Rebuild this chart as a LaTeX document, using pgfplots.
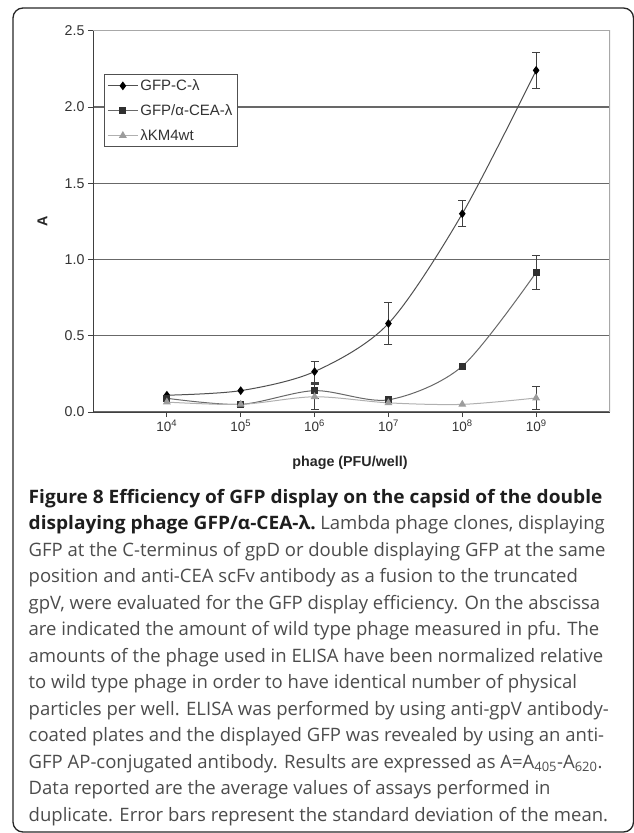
\documentclass[border=0pt]{standalone}
\usepackage{fontspec}
\setmainfont{Liberation Sans}
\newfontfamily\capfont{Open Sans}
\usepackage{graphicx}
\usepackage{pgfplots}
\usepackage{pgfplotstable}
\pgfplotsset{compat=1.18}
\definecolor{gridc}{HTML}{686868}
\definecolor{axisc}{HTML}{404040}
\definecolor{tickc}{HTML}{333333}
\definecolor{framec}{HTML}{A8A8A8}
\definecolor{legc}{HTML}{505050}
\definecolor{lineC}{HTML}{505050}
\definecolor{lineCEA}{HTML}{686868}
\definecolor{lineWT}{HTML}{B0B0B0}
\definecolor{markCEA}{HTML}{303030}
\definecolor{markWT}{HTML}{9C9C9C}
\definecolor{capbold}{HTML}{1E1E1E}
\definecolor{captext}{HTML}{4C4C4C}
\newlength\capw
\newlength\capbw
\pgfplotstableread{
x y
4 0.11
5 0.14
6 0.265
7 0.58
8 1.30
9 2.24
}\gfpc
\pgfplotstableread{
x y
4 0.09
5 0.05
6 0.14
7 0.08
8 0.30
9 0.915
}\gfpcea
\pgfplotstableread{
x y
4 0.065
5 0.05
6 0.10
7 0.06
8 0.05
9 0.092
}\wt
\pgfplotstableread{
x y e
6 0.265 0.07
7 0.58 0.14
8 1.30 0.085
9 2.24 0.117
}\gfpcerr
\pgfplotstableread{
x y e
6 0.14 0.05
9 0.915 0.11
}\gfpceaerr
\pgfplotstableread{
x y e
6 0.10 0.08
9 0.092 0.077
}\wterr
\begin{document}%
\settowidth\capw{\capfont\fontsize{18.5bp}{20bp}\selectfont GFP at the C-terminus of gpD or double displaying GFP at the same}%
\settowidth\capbw{\capfont\bfseries\fontsize{18.5bp}{20bp}\selectfont Figure 8 Efficiency of GFP display on the capsid of the double}%
\pgfmathsetmacro\capscale{578.9/\capw}%
\pgfmathsetmacro\capbscale{575.9/\capbw}%
\begin{tikzpicture}
\useasboundingbox (0,0) rectangle (634bp,-833bp);
\draw[draw=black!85, line width=1.3bp, rounded corners=10bp] (13bp,-8bp) rectangle (633.5bp,-832bp);
\begin{axis}[
  at={(93bp,-412bp)}, anchor=south west,
  scale only axis, width=517bp, height=381.3bp,
  xmin=3, xmax=10, ymin=0, ymax=2.5,
  xtick={4,5,6,7,8,9},
  xticklabels={10\textsuperscript{4},10\textsuperscript{5},10\textsuperscript{6},10\textsuperscript{7},10\textsuperscript{8},10\textsuperscript{9}},
  ytick={0,0.5,1,1.5,2,2.5},
  axis lines*=left,
  axis line style={draw=axisc, line width=1bp},
  tick align=outside,
  major tick length=5bp,
  tick style={draw=axisc, line width=0.9bp},
  ymajorgrids,
  grid style={draw=gridc, line width=1.3bp},
  /pgf/number format/assume math mode=true,
  y tick label style={/pgf/number format/fixed, /pgf/number format/fixed zerofill, /pgf/number format/precision=1, font=\fontsize{14.2bp}{16bp}\selectfont, text=tickc},
  x tick label style={font=\fontsize{13.5bp}{15bp}\selectfont, text=tickc, yshift=1bp},
  xlabel={phage (PFU/well)},
  ylabel={A},
  xlabel style={font=\bfseries\fontsize{14.3bp}{16bp}\selectfont, text=black!85, at={(axis description cs:0.497,-0.134)}, anchor=center},
  ylabel style={font=\bfseries\fontsize{14.3bp}{16bp}\selectfont, text=black!85, at={(axis description cs:-0.0977,0.5)}, anchor=center},
  legend style={at={(0.021,0.886)}, anchor=north west, draw=legc, line width=1bp, fill=white,
    font=\fontsize{15bp}{17bp}\selectfont, text=tickc, inner xsep=3bp, inner ysep=3bp, row sep=8.5bp,
    nodes={inner sep=2bp}},
  legend cell align=left,
  legend image code/.code={\draw[mark repeat=2, mark phase=2, #1] plot coordinates {(0bp,0bp) (15bp,0bp) (30bp,0bp)};},
]
\addplot[draw=lineC, line width=1bp, smooth, mark=diamond*, mark size=3.6bp, mark options={fill=black, draw=black, solid}] table[x=x,y=y] {\gfpc};
\addlegendentry{GFP-C-λ}
\addplot[draw=lineCEA, line width=1bp, smooth, mark=square*, mark size=3bp, mark options={fill=markCEA, draw=markCEA, solid}] table[x=x,y=y] {\gfpcea};
\addlegendentry{GFP/α-CEA-λ}
\addplot[draw=lineWT, line width=1bp, smooth, mark=triangle*, mark size=3.6bp, mark options={fill=markWT, draw=markWT, solid}] table[x=x,y=y] {\wt};
\addlegendentry{λKM4wt}
\addplot[forget plot, draw=none, mark=none, error bars/.cd, y dir=both, y explicit, error bar style={draw=axisc, line width=0.8bp}, error mark options={rotate=90, mark size=4bp, draw=axisc, line width=0.8bp}] table[x=x,y=y,y error=e] {\gfpcerr};
\addplot[forget plot, draw=none, mark=none, error bars/.cd, y dir=both, y explicit, error bar style={draw=axisc, line width=0.8bp}, error mark options={rotate=90, mark size=4bp, draw=axisc, line width=0.8bp}] table[x=x,y=y,y error=e] {\gfpceaerr};
\addplot[forget plot, draw=none, mark=none, error bars/.cd, y dir=both, y explicit, error bar style={draw=axisc, line width=0.8bp}, error mark options={rotate=90, mark size=4bp, draw=axisc, line width=0.8bp}] table[x=x,y=y,y error=e] {\wterr};
\draw[draw=framec, line width=1.4bp] (rel axis cs:0,1) -- (rel axis cs:1,1) -- (rel axis cs:1,0);
\end{axis}
\begin{scope}[every node/.style={anchor=base west, inner sep=0pt, font=\capfont\fontsize{18.5bp}{20bp}\selectfont, text=captext}]
\node at (28.5bp,-503bp) {\color{capbold}\scalebox{\capbscale}[1]{\bfseries Figure 8 Efficiency of GFP display on the capsid of the double}};
\node at (28.5bp,-529.5bp) {\color{capbold}\scalebox{\capbscale}[1]{\bfseries displaying phage GFP/α-CEA-λ.}\color{captext}\hspace{4.5bp}\scalebox{\capscale}[1]{Lambda phage clones, displaying}};
\node at (28.5bp,-556bp) {\scalebox{\capscale}[1]{GFP at the C-terminus of gpD or double displaying GFP at the same}};
\node at (28.5bp,-582.5bp) {\scalebox{\capscale}[1]{position and anti-CEA scFv antibody as a fusion to the truncated}};
\node at (28.5bp,-609bp) {\scalebox{\capscale}[1]{gpV, were evaluated for the GFP display efficiency. On the abscissa}};
\node at (28.5bp,-635.5bp) {\scalebox{\capscale}[1]{are indicated the amount of wild type phage measured in pfu. The}};
\node at (28.5bp,-662bp) {\scalebox{\capscale}[1]{amounts of the phage used in ELISA have been normalized relative}};
\node at (28.5bp,-688.5bp) {\scalebox{\capscale}[1]{to wild type phage in order to have identical number of physical}};
\node at (28.5bp,-715bp) {\scalebox{\capscale}[1]{particles per well. ELISA was performed by using anti-gpV antibody-}};
\node at (28.5bp,-741.5bp) {\scalebox{\capscale}[1]{coated plates and the displayed GFP was revealed by using an anti-}};
\node at (28.5bp,-768bp) {\scalebox{\capscale}[1]{GFP AP-conjugated antibody. Results are expressed as A=A\textsubscript{405}-A\textsubscript{620}.}};
\node at (28.5bp,-794.5bp) {\scalebox{\capscale}[1]{Data reported are the average values of assays performed in}};
\node at (28.5bp,-821bp) {\scalebox{\capscale}[1]{duplicate. Error bars represent the standard deviation of the mean.}};
\end{scope}
\end{tikzpicture}
\end{document}
